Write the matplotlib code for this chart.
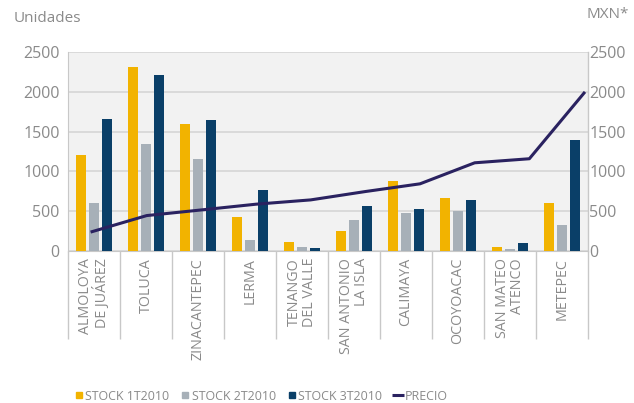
import matplotlib
matplotlib.use("Agg")
import matplotlib.pyplot as plt
import numpy as np
from matplotlib.lines import Line2D

categories = ["ALMOLOYA\nDE JUÁREZ", "TOLUCA", "ZINACANTEPEC", "LERMA",
              "TENANGO\nDEL VALLE", "SAN ANTONIO\nLA ISLA", "CALIMAYA",
              "OCOYOACAC", "SAN MATEO\nATENCO", "METEPEC"]
stock_1t = [1209, 2309, 1600, 432, 117, 252, 882, 663, 46, 608]
stock_2t = [608, 1348, 1159, 139, 50, 390, 474, 504, 21, 327]
stock_3t = [1662, 2217, 1650, 768, 42, 571, 525, 642, 105, 1398]
precio = [243, 445, 516, 588, 642, 747, 844, 1108, 1159, 1984]
series_names = ["STOCK 1T2010", "STOCK 2T2010", "STOCK 3T2010", "PRECIO"]
y_ticks = [0, 500, 1000, 1500, 2000, 2500]

c_yellow = "#F2B300"
c_gray = "#A7B0B8"
c_navy = "#0A3F68"
c_line = "#2A2260"
c_text = "#8A8A8A"
c_grid = "#D6D6D6"

plt.rcParams['font.family'] = ['Open Sans', 'DejaVu Sans']

W, H = 634, 403
fig = plt.figure(figsize=(W / 100, H / 100), dpi=100)
L, R, T, B = 68, 588, 52, 251
pos = [L / W, 1 - B / H, (R - L) / W, (B - T) / H]
ax = fig.add_axes(pos)
ax.set_facecolor("#F2F2F2")

n = len(categories)
x = np.arange(n)
bw = 0.2
step = 0.245
ax.bar(x - step, stock_1t, bw, color=c_yellow, zorder=3)
ax.bar(x, stock_2t, bw, color=c_gray, zorder=3)
ax.bar(x + step, stock_3t, bw, color=c_navy, zorder=3)
ax.set_xlim(-0.5, n - 0.5)
ax.set_ylim(0, 2500)
ax.set_yticks(y_ticks)
ax.yaxis.grid(True, color=c_grid, lw=1.2, zorder=0)
ax.tick_params(axis='y', length=0, labelsize=11.5, labelcolor=c_text, pad=6)
for s in ["top", "right"]:
    ax.spines[s].set_visible(False)
ax.spines["left"].set_color("#C8C8C8")
ax.spines["bottom"].set_color("#C8C8C8")

# category labels and separators
ax.set_xticks(x)
ax.set_xticklabels(categories, rotation=90, va="top", ha="center",
                   multialignment="right", fontsize=10.3, color=c_text,
                   linespacing=0.95)
ax.tick_params(axis='x', length=0, pad=5)
ax.set_xticks(np.arange(n + 1) - 0.5, minor=True)
ax.tick_params(axis='x', which='minor', length=63, color="#C8C8C8", width=1)

# line on its own axes
ax2 = fig.add_axes(pos, frameon=False)
xl = np.arange(n)
ax2.plot(xl, precio, color=c_line, lw=2.2, zorder=5)
ax2.set_xlim(-0.44, n - 1 + 0.073)
ax2.set_ylim(0, 2500)
ax2.set_xticks([])
ax2.yaxis.tick_right()
ax2.set_yticks(y_ticks)
ax2.tick_params(axis='y', length=0, labelsize=11.5, labelcolor=c_text, pad=1)
ax2.plot([1, 1], [0, 1], transform=ax2.transAxes, color="#C8C8C8", lw=1, clip_on=False)

fig.text(14 / W, 1 - 19 / H, "Unidades", fontsize=11, color=c_text, va="center", ha="left")
fig.text(587 / W, 1 - 15 / H, "MXN*", fontsize=11, color=c_text, va="center", ha="left")

handles = [Line2D([], [], color=c_yellow, marker='s', markersize=4.5, ls='None'),
           Line2D([], [], color=c_gray, marker='s', markersize=4.5, ls='None'),
           Line2D([], [], color=c_navy, marker='s', markersize=4.5, ls='None'),
           Line2D([], [], color=c_line, marker='_', markersize=9, mew=2.2, ls='None')]
leg = fig.legend(handles, series_names, loc="center left",
                 bbox_to_anchor=(62 / W, 1 - 396 / H), ncol=4, frameon=False,
                 fontsize=8.9, handlelength=0.95, handletextpad=0.05,
                 columnspacing=0.8, labelcolor=c_text)

fig.savefig("out.png", dpi=100)
